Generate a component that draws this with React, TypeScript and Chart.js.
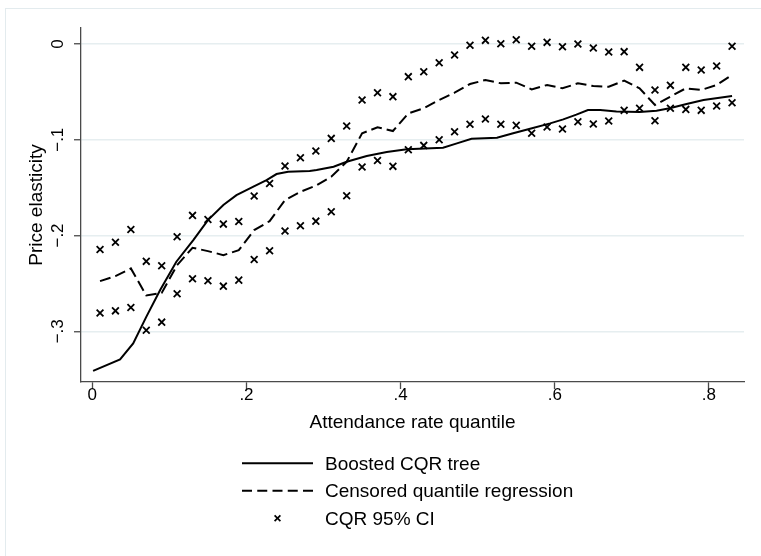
import React, { useEffect, useRef } from "react";
import { Chart, registerables } from "chart.js";

Chart.register(...registerables);

// ---------- data ----------
const quantiles = [
  0.01, 0.03, 0.05, 0.07, 0.09, 0.11, 0.13, 0.15, 0.17, 0.19, 0.21, 0.23, 0.25, 0.27,
  0.29, 0.31, 0.33, 0.35, 0.37, 0.39, 0.41, 0.43, 0.45, 0.47, 0.49, 0.51, 0.53, 0.55,
  0.57, 0.59, 0.61, 0.63, 0.65, 0.67, 0.69, 0.71, 0.73, 0.75, 0.77, 0.79, 0.81, 0.83,
];

const cqrEstimate = [
  -0.2477, -0.2424, -0.2344, -0.2626, -0.2600, -0.2309, -0.2128, -0.2163, -0.2205, -0.2153,
  -0.1944, -0.1850, -0.1630, -0.1543, -0.1480, -0.1386, -0.1230, -0.0933, -0.0870, -0.0909,
  -0.0724, -0.0672, -0.0585, -0.0509, -0.0418, -0.0376, -0.0411, -0.0404, -0.0474, -0.0428,
  -0.0463, -0.0411, -0.0439, -0.0446, -0.0383, -0.0463, -0.0637, -0.0550, -0.0463, -0.0480,
  -0.0428, -0.0324,
];

const ciUpper = [
  -0.2146, -0.2070, -0.1937, -0.2270, -0.2316, -0.2013, -0.1790, -0.1832, -0.1881, -0.1853,
  -0.1588, -0.1456, -0.1275, -0.1188, -0.1118, -0.0986, -0.0857, -0.0585, -0.0509, -0.0550,
  -0.0341, -0.0289, -0.0195, -0.0115, -0.0014, 0.0038, 0.0003, 0.0045, -0.0024, 0.0017,
  -0.0028, 0.0, -0.0042, -0.0084, -0.0080, -0.0244, -0.0481, -0.0432, -0.0244, -0.0272,
  -0.0230, -0.0024,
];

const ciLower = [
  -0.2810, -0.2787, -0.2752, -0.2989, -0.2905, -0.2609, -0.2452, -0.2473, -0.2529, -0.2466,
  -0.2250, -0.2160, -0.1954, -0.1898, -0.1850, -0.1752, -0.1585, -0.1285, -0.1216, -0.1278,
  -0.1104, -0.1059, -0.1000, -0.0916, -0.0839, -0.0784, -0.0839, -0.0850, -0.0933, -0.0867,
  -0.0888, -0.0812, -0.0836, -0.0805, -0.0693, -0.0672, -0.0801, -0.0672, -0.0683, -0.0693,
  -0.0648, -0.0613,
];

const boostedQuantiles = [
  0.001, 0.036, 0.053, 0.07, 0.088, 0.109, 0.131, 0.15, 0.17, 0.187, 0.209, 0.226, 0.239,
  0.254, 0.282, 0.291, 0.313, 0.33, 0.356, 0.382, 0.408, 0.455, 0.473, 0.492, 0.525, 0.546,
  0.568, 0.594, 0.611, 0.628, 0.643, 0.659, 0.68, 0.71, 0.732, 0.749, 0.771, 0.793, 0.83,
];

const boostedEstimate = [
  -0.3414, -0.3295, -0.3128, -0.285, -0.257, -0.2274, -0.2048, -0.1839, -0.1682, -0.1578,
  -0.149, -0.1421, -0.1358, -0.1334, -0.1327, -0.1317, -0.1282, -0.123, -0.117, -0.1129,
  -0.11, -0.1083, -0.1038, -0.099, -0.0979, -0.0933, -0.0885, -0.0829, -0.0787, -0.0738,
  -0.069, -0.069, -0.0704, -0.0711, -0.0697, -0.0672, -0.0627, -0.0585, -0.0543,
];

const xTickValues = [0, 0.2, 0.4, 0.6, 0.8];
const xTickLabels = ["0", ".2", ".4", ".6", ".8"];
const yTickValues = [0, -0.1, -0.2, -0.3];
const yTickLabels = ["0", "\u2212.1", "\u2212.2", "\u2212.3"];

const seriesNames = ["Boosted CQR tree", "Censored quantile regression", "CQR 95% CI"];
const xTitle = "Attendance rate quantile";
const yTitle = "Price elasticity";

// ---------- styling / layout ----------
const W = 761;
const H = 556;
const FONT = '"Liberation Sans", Arial, Helvetica, sans-serif';
const AXIS_COLOR = "#4a4a4a";
const GRID_COLOR = "#e6eef0";
const FRAME_COLOR = "#e3ebee";
const PLOT = { left: 81, right: 744, top: 28, bottom: 382 };

const drawCross = (ctx: CanvasRenderingContext2D, x: number, y: number, h: number) => {
  ctx.beginPath();
  ctx.moveTo(x - h, y - h);
  ctx.lineTo(x + h, y + h);
  ctx.moveTo(x - h, y + h);
  ctx.lineTo(x + h, y - h);
  ctx.stroke();
};

const decorPlugin = {
  id: "stataDecor",
  beforeDraw(chart: any) {
    const ctx = chart.ctx as CanvasRenderingContext2D;
    ctx.save();
    ctx.fillStyle = "#ffffff";
    ctx.fillRect(0, 0, chart.width, chart.height);
    ctx.strokeStyle = FRAME_COLOR;
    ctx.lineWidth = 1;
    ctx.strokeRect(5.5, 8.5, chart.width + 20, chart.height + 20);
    ctx.restore();
  },
  afterDraw(chart: any) {
    const ctx = chart.ctx as CanvasRenderingContext2D;
    const xs = chart.scales.x;
    const ys = chart.scales.y;
    const area = chart.chartArea;
    ctx.save();
    ctx.fillStyle = "#000";

    // x tick labels
    ctx.font = `17px ${FONT}`;
    ctx.textAlign = "center";
    ctx.textBaseline = "alphabetic";
    xTickValues.forEach((v, i) => {
      ctx.fillText(xTickLabels[i], xs.getPixelForValue(v), 400);
    });

    // y tick labels (rotated)
    yTickValues.forEach((v, i) => {
      ctx.save();
      ctx.translate(63, ys.getPixelForValue(v));
      ctx.rotate(-Math.PI / 2);
      ctx.textAlign = "center";
      ctx.fillText(yTickLabels[i], 0, 0);
      ctx.restore();
    });

    // axis titles
    ctx.font = `19px ${FONT}`;
    ctx.textAlign = "center";
    ctx.fillText(xTitle, (area.left + area.right) / 2, 428);
    ctx.save();
    ctx.translate(42, (area.top + area.bottom) / 2);
    ctx.rotate(-Math.PI / 2);
    ctx.fillText(yTitle, 0, 0);
    ctx.restore();

    // legend
    const rows = [463.3, 490.8, 518.3];
    const lx0 = 242;
    const lx1 = 313;
    ctx.strokeStyle = "#000";
    ctx.lineWidth = 2;
    ctx.beginPath();
    ctx.moveTo(lx0, rows[0]);
    ctx.lineTo(lx1, rows[0]);
    ctx.stroke();
    ctx.setLineDash([10, 5.25]);
    ctx.beginPath();
    ctx.moveTo(lx0, rows[1]);
    ctx.lineTo(lx1, rows[1]);
    ctx.stroke();
    ctx.setLineDash([]);
    ctx.lineWidth = 1.7;
    drawCross(ctx, (lx0 + lx1) / 2, rows[2], 2.9);

    ctx.textAlign = "left";
    seriesNames.forEach((name, i) => {
      ctx.fillText(name, 325, rows[i] + 6.4);
    });
    ctx.restore();
  },
};

export default function App() {
  const canvasRef = useRef<HTMLCanvasElement | null>(null);

  useEffect(() => {
    const canvas = canvasRef.current;
    if (!canvas) return;

    const boostedData = boostedQuantiles.map((q, i) => ({ x: q, y: boostedEstimate[i] }));
    const cqrData = quantiles.map((q, i) => ({ x: q, y: cqrEstimate[i] }));
    const ciData = [
      ...quantiles.map((q, i) => ({ x: q, y: ciUpper[i] })),
      ...quantiles.map((q, i) => ({ x: q, y: ciLower[i] })),
    ];

    const chart = new Chart(canvas, {
      type: "line",
      data: {
        datasets: [
          {
            label: seriesNames[2],
            data: ciData,
            showLine: false,
            pointStyle: "crossRot",
            pointRadius: 4.8,
            pointBorderWidth: 1.8,
            pointBorderColor: "#000",
            pointBackgroundColor: "#000",
            borderColor: "#000",
          },
          {
            label: seriesNames[1],
            data: cqrData,
            borderColor: "#000",
            borderWidth: 2,
            borderDash: [11, 5],
            pointRadius: 0,
            tension: 0,
            fill: false,
          },
          {
            label: seriesNames[0],
            data: boostedData,
            borderColor: "#000",
            borderWidth: 2,
            pointRadius: 0,
            tension: 0,
            fill: false,
          },
        ],
      },
      options: {
        animation: false,
        responsive: false,
        devicePixelRatio: 1,
        layout: {
          padding: { left: 0, top: PLOT.top, right: W - PLOT.right, bottom: 0 },
        },
        plugins: {
          legend: { display: false },
          tooltip: { enabled: false },
        },
        scales: {
          x: {
            type: "linear",
            min: -0.0147,
            max: 0.8455,
            afterBuildTicks: (scale: any) => {
              scale.ticks = xTickValues.map((v) => ({ value: v }));
            },
            afterFit: (scale: any) => {
              scale.height = H - PLOT.bottom;
            },
            ticks: { display: false },
            grid: {
              drawOnChartArea: false,
              drawTicks: true,
              tickLength: 7,
              tickColor: AXIS_COLOR,
              tickWidth: 1.3,
            },
            border: { display: true, color: AXIS_COLOR, width: 1.3 },
            title: { display: false },
          },
          y: {
            type: "linear",
            min: -0.353,
            max: 0.0167,
            afterBuildTicks: (scale: any) => {
              scale.ticks = yTickValues.map((v) => ({ value: v }));
            },
            afterFit: (scale: any) => {
              scale.width = PLOT.left;
            },
            ticks: { display: false },
            grid: {
              drawOnChartArea: true,
              color: GRID_COLOR,
              lineWidth: 1.5,
              drawTicks: true,
              tickLength: 7,
              tickColor: AXIS_COLOR,
              tickWidth: 1.3,
            },
            border: { display: true, color: AXIS_COLOR, width: 1.3 },
            title: { display: false },
          },
        },
      },
      plugins: [decorPlugin],
    });

    return () => {
      chart.destroy();
    };
  }, []);

  return (
    <div style={{ position: "fixed", left: 0, top: 0, width: W, height: H, background: "#fff" }}>
      <canvas ref={canvasRef} width={W} height={H} style={{ display: "block", width: W, height: H }} />
    </div>
  );
}
